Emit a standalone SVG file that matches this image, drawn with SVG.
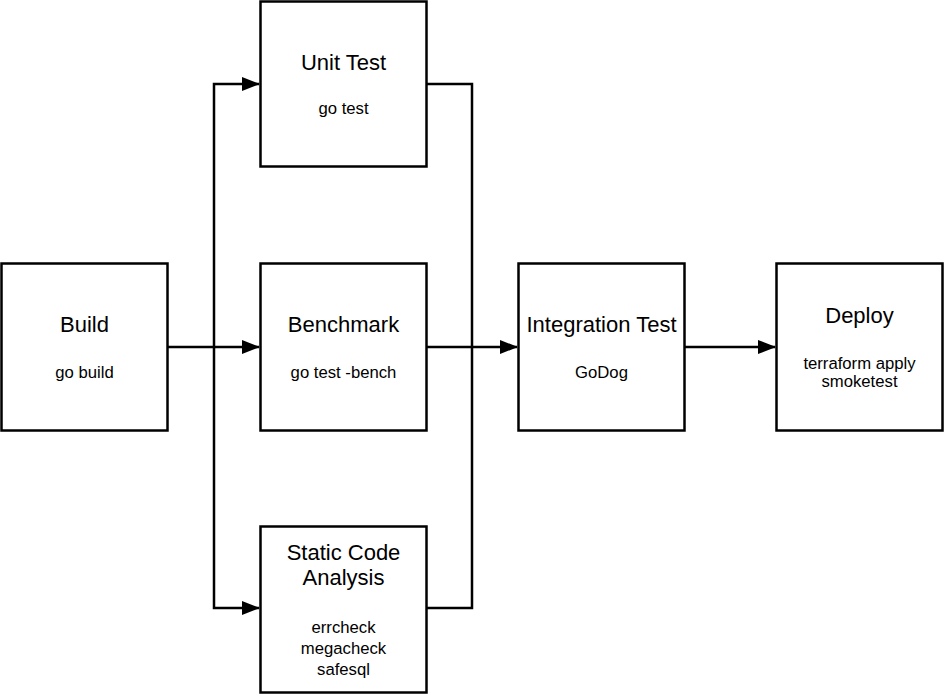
<svg xmlns="http://www.w3.org/2000/svg" width="944" height="694" viewBox="0 0 944 694">
<defs>
<style>
.box{fill:#fff;stroke:#000;stroke-width:2.5}
.t{font-family:"Liberation Sans",Arial,sans-serif;font-size:22px;text-anchor:middle;fill:#000}
.s{font-family:"Liberation Sans",Arial,sans-serif;font-size:16.7px;text-anchor:middle;fill:#000}
.c{fill:none;stroke:#000;stroke-width:2.5}
</style>
<marker id="arr" markerWidth="18" markerHeight="14" refX="17" refY="7" orient="auto" markerUnits="userSpaceOnUse">
<path d="M0,0 L18,7 L0,14 Z" fill="#000"/>
</marker>
</defs>
<rect width="944" height="694" fill="#fff"/>
<g id="connectors">
<path class="c" d="M168,347 L259,347" marker-end="url(#arr)"/>
<path class="c" d="M214,347 L214,84 L259,84" marker-end="url(#arr)"/>
<path class="c" d="M214,347 L214,608 L259,608" marker-end="url(#arr)"/>
<path class="c" d="M427,84 L472,84 L472,608 L427,608"/>
<path class="c" d="M427,347 L517,347" marker-end="url(#arr)"/>
<path class="c" d="M685,347 L775,347" marker-end="url(#arr)"/>
</g>
<g id="build">
<rect class="box" x="1.5" y="263.5" width="166" height="167"/>
<text class="t" x="84.5" y="332">Build</text>
<text class="s" x="84.5" y="378">go build</text>
</g>
<g id="unit-test">
<rect class="box" x="260.5" y="1.5" width="166" height="165"/>
<text class="t" x="343.5" y="70">Unit Test</text>
<text class="s" x="343.5" y="114">go test</text>
</g>
<g id="benchmark">
<rect class="box" x="260.5" y="263.5" width="166" height="167"/>
<text class="t" x="343.5" y="332">Benchmark</text>
<text class="s" x="343.5" y="378">go test -bench</text>
</g>
<g id="static-code-analysis">
<rect class="box" x="260.5" y="526.5" width="166" height="166"/>
<text class="t" x="343.5" y="560">Static Code</text>
<text class="t" x="343.5" y="585">Analysis</text>
<text class="s" x="343.5" y="633">errcheck</text>
<text class="s" x="343.5" y="654">megacheck</text>
<text class="s" x="343.5" y="675">safesql</text>
</g>
<g id="integration-test">
<rect class="box" x="518.5" y="263.5" width="166" height="167"/>
<text class="t" x="601.5" y="332">Integration Test</text>
<text class="s" x="601.5" y="378">GoDog</text>
</g>
<g id="deploy">
<rect class="box" x="776.5" y="263.5" width="166" height="167"/>
<text class="t" x="859.5" y="323">Deploy</text>
<text class="s" x="859.5" y="369">terraform apply</text>
<text class="s" x="859.5" y="387">smoketest</text>
</g>
</svg>
